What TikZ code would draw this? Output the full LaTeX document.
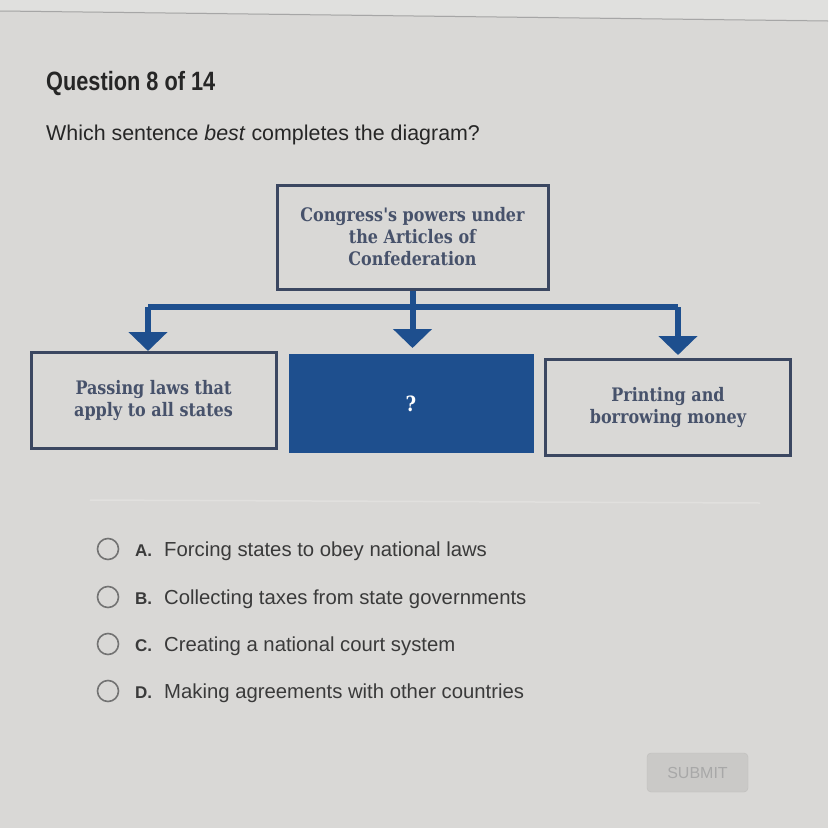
\documentclass[tikz,border=0pt]{standalone}
\usepackage{fontspec}
\setmainfont{Liberation Sans}
\newfontfamily\headfont[FakeStretch=0.82]{Liberation Sans}
\newfontfamily\slabfont[FakeStretch=0.86]{DejaVu Serif}
\usetikzlibrary{positioning}
\usetikzlibrary{arrows.meta}
\definecolor{paper}{HTML}{D9D8D6}
\definecolor{boxline}{HTML}{3B4761}
\definecolor{boxtext}{HTML}{47526B}
\definecolor{navy}{HTML}{1E4F8E}
\definecolor{optext}{HTML}{3A3A3A}
\tikzset{box/.style = {draw = boxline, line width = 3pt, minimum width = 245pt, minimum height = 96pt, align = center, text = boxtext, font = \slabfont\bfseries\fontsize{18.6}{22}\selectfont, inner sep = 0}}
\tikzset{conn/.style = {draw = navy, line width = 6pt}}
\tikzset{tip/.style = {conn, -{Triangle[width = 38pt, length = 19pt]}}}
\tikzset{radio/.style = {draw = black!55, line width = 1.6pt, circle, minimum size = 21pt, inner sep = 0}}
\tikzset{option/.style = {anchor = base west, text = optext, font = \fontsize{20.3}{22}\selectfont, inner sep = 0}}

\begin{document}
\begin{tikzpicture}[x = 1pt, y = -1pt]
    \fill[paper] (0,0) rectangle (828,828);
    \useasboundingbox (0,0) rectangle (828,828);
    \fill[paper!60!white, opacity = 0.5] (0,0) -- (828,0) -- (828,20) -- (0,10) -- cycle;
    \draw[black!35, line width = 1pt] (0,11) -- (828,21);
    % header
    \node[anchor = base west, inner sep = 0, text = black!85, font = \headfont\bfseries\fontsize{26.5}{30}\selectfont] (head) at (46,90) {Question 8 of 14};
    \node[anchor = base west, inner sep = 0, text = black!85, font = \fontsize{21.4}{25}\selectfont] (ask) at (46,140) {Which sentence \textit{best} completes the diagram?};
    % diagram
    \node[box, minimum width = 271pt, minimum height = 104pt] (top) at (412.5,237) {Congress's powers under\\the Articles of\\Confederation};
    \node[box] (left) at (153.5,400.5) {Passing laws that\\apply to all states};
    \node[box, draw = navy, fill = navy, text = white, minimum width = 242pt] (mid) at (411,403.5) {\fontsize{21}{22}\selectfont ?};
    \node[box] (right) at (668,407.5) {Printing and\\borrowing money};
    \coordinate (bar) at (412.5,307);
    \coordinate (barl) at (148,307);
    \coordinate (barr) at (678,307);
    \draw[conn] (barl) -- (barr);
    \draw[conn] (top.south) -- (bar);
    \draw[tip] (barl) -- (148,351);
    \draw[tip] (bar) -- (412.5,348);
    \draw[tip] (barr) -- (678,355);
    % answers
    \draw[paper!80!white, line width = 1.5pt] (90,500) -- (760,503);
    \foreach \y/\ltr/\txt/\n in {549/A/Forcing states to obey national laws/a, 597/B/Collecting taxes from state governments/b, 644/C/Creating a national court system/c, 691/D/Making agreements with other countries/d} {
        \node[radio] (r\n) at (108,\y) {};
        \node[option, font = \bfseries\fontsize{17}{22}\selectfont] (l\n) at (135,\y+7) {\ltr.};
        \node[option] (o\n) at (164,\y+7) {\txt};
    }
    \node[draw = paper!88!black, fill = paper!93!black, rounded corners = 4pt, minimum width = 101pt, minimum height = 39pt, text = black!34, font = \fontsize{16}{18}\selectfont] (submit) at (697.5,772.5) {SUBMIT};
  \end{tikzpicture}
\end{document}
